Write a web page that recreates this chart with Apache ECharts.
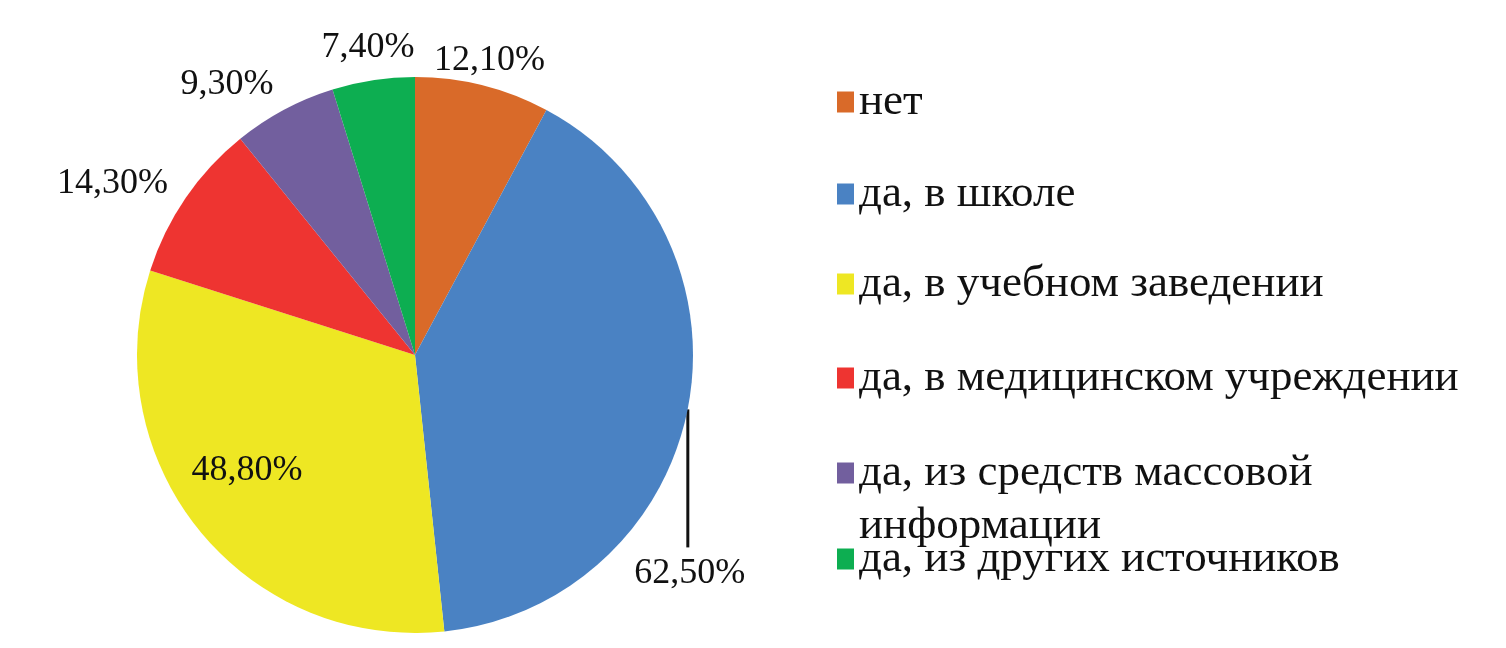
<!DOCTYPE html>
<html><head><meta charset="utf-8">
<script src="https://cdn.jsdelivr.net/npm/echarts@6/dist/echarts.min.js"></script>
<style>html,body{margin:0;padding:0;background:#fff}#c{width:1506px;height:648px}</style>
</head><body><div id="c"></div>
<script>
const categories = ['нет', 'да, в школе', 'да, в учебном заведении', 'да, в медицинском учреждении', 'да, из средств массовой информации', 'да, из других источников'];
const values = [12.1, 62.5, 48.8, 14.3, 9.3, 7.4];
const legendLabels = ['нет', 'да, в школе', 'да, в учебном заведении', 'да, в медицинском учреждении', 'да, из средств массовой\nинформации', 'да, из других источников'];
const colors = ['#D96A29', '#4A82C3', '#EEE723', '#EE3431', '#725F9E', '#0DAE51'];

const CX = 415, CY = 355, R = 278;
const FONT = '"Liberation Serif","Times New Roman",serif';
const total = values.reduce((a, b) => a + b, 0);
const mids = []; let acc = 0;
values.forEach(v => { mids.push((acc + v / 2) / total * 2 * Math.PI); acc += v; });
const labelR = [306, 0, 203, 349, 331, 313];
const labelDA = [0, 0, 5, -4.5, -6.5, 0];
function pt(a, r) { return [CX + r * Math.sin(a), CY - r * Math.cos(a)]; }
const leaderTop = pt(mids[1], R);
const leaderLen = 139;
function labelPos(i) {
  if (i === 1) return [leaderTop[0] + 2, leaderTop[1] + leaderLen + 26];
  const q = pt(mids[i] + labelDA[i] * Math.PI / 180, labelR[i]);
  return [q[0], q[1] + 2];
}
const fmt = v => v.toFixed(2).replace('.', ',') + '%';

const iconCenters = [102, 194, 284, 378, 469, 559];
const FS = 45, IH = 21, LH = 53;
const legends = categories.map((name, i) => {
  const multi = legendLabels[i].indexOf('\n') >= 0;
  return {
    orient: 'vertical', left: 837, top: iconCenters[i] - FS / 2 - (multi ? LH : 0), padding: 0,
    data: [name], icon: 'rect', itemWidth: 17, itemHeight: IH, selectedMode: false,
    formatter: () => multi ? '\n' + legendLabels[i] : legendLabels[i],
    textStyle: Object.assign({ fontFamily: FONT, fontSize: FS, color: '#111' },
      multi ? { lineHeight: LH } : {})
  };
});

const chart = echarts.init(document.getElementById('c'));
chart.setOption({
  animation: false,
  backgroundColor: '#fff',
  legend: legends,
  graphic: [{
    type: 'line', silent: true,
    shape: { x1: leaderTop[0], y1: leaderTop[1] + 1, x2: leaderTop[0], y2: leaderTop[1] + leaderLen },
    style: { stroke: '#111', lineWidth: 3 }
  }],
  series: [{
    type: 'pie', center: [CX, CY], radius: R, startAngle: 90, clockwise: true,
    avoidLabelOverlap: false,
    data: categories.map((n, i) => ({ name: n, value: values[i], itemStyle: { color: colors[i] } })),
    label: { show: true, formatter: p => fmt(p.value), fontFamily: FONT, fontSize: 36, color: '#111' },
    labelLine: { show: false },
    labelLayout: p => { const q = labelPos(p.dataIndex); return { x: q[0], y: q[1], align: 'center', verticalAlign: 'middle' }; },
    emphasis: { disabled: true }
  }]
});
</script></body></html>
